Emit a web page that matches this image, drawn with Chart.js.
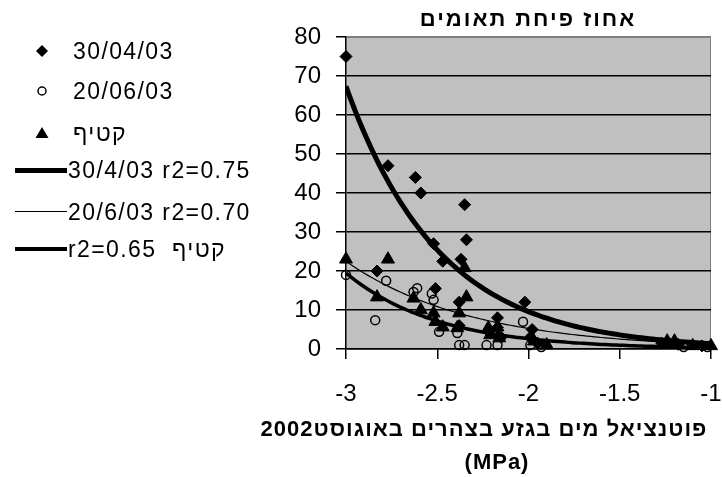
<!DOCTYPE html>
<html>
<head>
<meta charset="utf-8">
<script src="https://cdn.jsdelivr.net/npm/chart.js@4/dist/chart.umd.min.js"></script>
<style>
  html, body { margin: 0; padding: 0; background: #fff; }
  #wrap { position: relative; width: 722px; height: 477px; overflow: hidden;
          font-family: "Liberation Sans", Arial, "DejaVu Sans", sans-serif; color: #000; }
  #c { position: absolute; left: 0; top: 0; }
  .t { position: absolute; white-space: nowrap; line-height: 1; }
  .lgt { font-size: 23px; letter-spacing: 1.4px; transform: translateY(-50%); }
  .ttl { font-size: 22px; font-weight: bold; letter-spacing: 2px; transform: translate(-50%, -50%); }
  .axt { font-size: 22px; font-weight: bold; letter-spacing: 1px; transform: translate(-50%, -50%); }
  .mk { position: absolute; }
  .ln { position: absolute; left: 15px; width: 52px; background: #000; }
</style>
</head>
<body>
<div id="wrap">
  <canvas id="c" width="722" height="477"></canvas>

  <!-- chart title -->
  <div class="t ttl" dir="rtl" style="left:528px; top:19px;">אחוז פיחת תאומים</div>

  <!-- legend -->
  <svg class="mk" width="14" height="14" style="left:35px; top:44px;"><polygon points="7,1 13,7 7,13 1,7" fill="#000"/></svg>
  <div class="t lgt" style="left:73px; top:51px;">30/04/03</div>

  <svg class="mk" width="12" height="12" style="left:36px; top:85px;"><circle cx="6" cy="6" r="4" fill="none" stroke="#000" stroke-width="1.5"/></svg>
  <div class="t lgt" style="left:73px; top:91px;">20/06/03</div>

  <svg class="mk" width="14" height="13" style="left:35px; top:126px;"><polygon points="7,1 13.5,12 0.5,12" fill="#000"/></svg>
  <div class="t lgt" dir="rtl" style="left:73px; top:133px;">קטיף</div>

  <div class="ln" style="top:168px; height:5px;"></div>
  <div class="t lgt" style="left:68px; top:170px;">30/4/03 r2=0.75</div>

  <div class="ln" style="top:211px; height:1px;"></div>
  <div class="t lgt" style="left:68px; top:212px;">20/6/03 r2=0.70</div>

  <div class="ln" style="top:247px; height:4px;"></div>
  <div class="t lgt" style="left:68px; top:249px;">r2=0.65 &nbsp;קטיף</div>

  <!-- x axis title -->
  <div class="t axt" dir="rtl" style="left:484px; top:429px;">פוטנציאל מים בגזע בצהרים באוגוסט2002</div>
  <div class="t axt" style="left:497px; top:462px;">(MPa)</div>
</div>

<script>
// Scatter series: trunk water potential (MPa) vs. percent of twin fruit drop
const seriesLabels = ['30/04/03', '20/06/03', 'קטיף'];

const aprX = [-3.00, -2.83, -2.77, -2.62, -2.59, -2.52, -2.51, -2.47, -2.38, -2.37, -2.35, -2.34,
              -2.38, -2.22, -2.17, -2.17, -2.15, -2.02, -1.98, -1.99, -1.95, -1.27, -1.18, -1.05];
const aprY = [75, 20, 47, 44, 40, 27, 15.5, 22.5, 12, 23, 37, 28,
              6, 4.5, 8, 5.5, 3, 12, 5, 3, 1.5, 1.5, 1.2, 0.8];

const junX = [-3.00, -2.84, -2.78, -2.63, -2.61, -2.53, -2.52, -2.49, -2.39, -2.38, -2.35,
              -2.23, -2.17, -2.03, -1.99, -1.93, -1.15, -1.02];
const junY = [19, 7.4, 17.5, 14.6, 15.6, 14.2, 12.6, 4.4, 4.1, 1, 1,
              1, 1, 7, 1, 0.5, 0.5, 0.5];

const harvX = [-3.00, -2.83, -2.77, -2.63, -2.59, -2.52, -2.51, -2.47, -2.35, -2.34, -2.38, -2.39,
               -2.22, -2.21, -2.17, -2.16, -1.97, -1.90, -1.24, -1.20, -1.10, -1.00];
const harvY = [23, 13.3, 23, 13, 10, 9.2, 7, 5.6, 20.8, 13.3, 9.2, 5.4,
               5.4, 3.6, 5.6, 2.8, 2, 1, 2, 2, 0.8, 0.8];

// Exponential trendlines  y = a * exp(b * x)
const trendLabels = ['30/4/03 r2=0.75', '20/6/03 r2=0.70', 'r2=0.65 קטיף'];
const trendA = [0.194, 0.29, 0.0483];
const trendB = [-1.95, -1.45, -2.0];
const trendFrom = [-3, -3, -3];
const trendTo = [-1, -1, -1];
const trendWidth = [5, 1.2, 3.5];

// Axis ticks
const xTicks = [-3, -2.5, -2, -1.5, -1];
const yTicks = [0, 10, 20, 30, 40, 50, 60, 70, 80];

const pts = (xs, ys) => xs.map((x, i) => ({ x: x, y: ys[i] }));

function trendPoints(i) {
  const out = [];
  const n = 100;
  for (let k = 0; k <= n; k++) {
    const x = trendFrom[i] + (trendTo[i] - trendFrom[i]) * k / n;
    out.push({ x: x, y: trendA[i] * Math.exp(trendB[i] * x) });
  }
  return out;
}

const plotBg = {
  id: 'plotBg',
  beforeDraw(chart) {
    const { ctx, chartArea: a } = chart;
    ctx.save();
    ctx.fillStyle = '#c0c0c0';
    ctx.fillRect(a.left, a.top, a.right - a.left, a.bottom - a.top);
    ctx.strokeStyle = '#808080';
    ctx.lineWidth = 1;
    ctx.beginPath();
    ctx.moveTo(a.left, a.top + 0.5);
    ctx.lineTo(a.right - 0.5, a.top + 0.5);
    ctx.lineTo(a.right - 0.5, a.bottom);
    ctx.stroke();
    ctx.restore();
  }
};

const tickFont = { family: '"Liberation Sans", Arial, sans-serif', size: 24 };

new Chart(document.getElementById('c'), {
  type: 'scatter',
  data: {
    datasets: [
      { label: seriesLabels[0], data: pts(aprX, aprY), pointStyle: 'rectRot', pointRadius: 6,
        backgroundColor: '#000', borderColor: '#000', borderWidth: 1, clip: false },
      { label: seriesLabels[1], data: pts(junX, junY), pointStyle: 'circle', pointRadius: 4.5,
        backgroundColor: 'rgba(0,0,0,0)', borderColor: '#000', borderWidth: 1.5, clip: false },
      { label: seriesLabels[2], data: pts(harvX, harvY), pointStyle: 'triangle', pointRadius: 7.5,
        backgroundColor: '#000', borderColor: '#000', borderWidth: 1, clip: false },
      ...[0, 1, 2].map(i => ({
        label: trendLabels[i], data: trendPoints(i), showLine: true, pointRadius: 0,
        borderColor: '#000', borderWidth: trendWidth[i], tension: 0, fill: false
      }))
    ]
  },
  options: {
    responsive: false,
    animation: false,
    devicePixelRatio: 1,
    events: [],
    layout: { padding: { top: 37, right: 11, left: 0, bottom: 0 } },
    plugins: { legend: { display: false }, title: { display: false }, tooltip: { enabled: false } },
    scales: {
      x: {
        type: 'linear', position: 'bottom', min: -3, max: -1,
        afterBuildTicks: s => { s.ticks = xTicks.map(v => ({ value: v })); },
        afterFit: s => { s.height = 128; s.paddingLeft = 0; s.paddingRight = 0; },
        ticks: { font: tickFont, color: '#000', padding: 21, maxRotation: 0, autoSkip: false,
                 callback: v => String(v) },
        grid: { drawOnChartArea: false, drawTicks: true, tickLength: 10, color: '#000', lineWidth: 1.5 },
        border: { color: '#000', width: 1.5 }
      },
      y: {
        type: 'linear', position: 'left', min: 0, max: 80,
        afterBuildTicks: s => { s.ticks = yTicks.map(v => ({ value: v })); },
        afterFit: s => { s.width = 346; s.paddingTop = 0; s.paddingBottom = 0; },
        ticks: { font: tickFont, color: '#000', padding: 15, autoSkip: false,
                 callback: v => String(v) },
        grid: {
          color: c => (c.tick && c.tick.value === 80 ? '#808080' : '#000'),
          tickColor: '#000', lineWidth: 1.5, drawTicks: true, tickLength: 10
        },
        border: { color: '#000', width: 1.5 }
      }
    }
  },
  plugins: [plotBg]
});
</script>
</body>
</html>
